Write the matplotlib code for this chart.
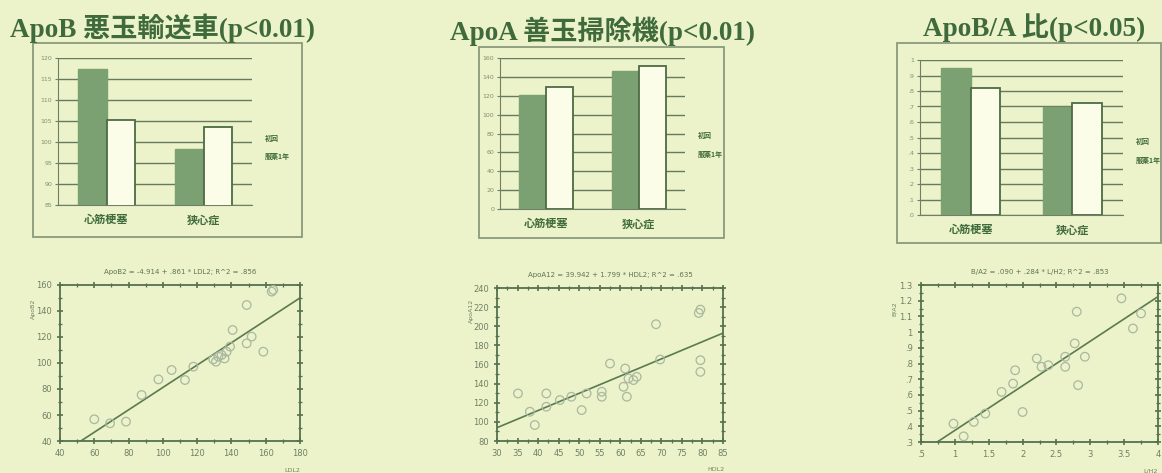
import matplotlib
matplotlib.use("Agg")
import matplotlib.pyplot as plt
from matplotlib.patches import Rectangle
from matplotlib.ticker import MultipleLocator
import numpy as np

BG = "#ecf2c9"
DARK = "#3f6b3c"
BAR_GREEN = "#7ba173"
LINE = "#5a7a50"
POINT = "#a9b8a0"
CJK = ["Noto Sans CJK JP", "DejaVu Sans"]
TITLE_FONT = ["Liberation Serif", "Noto Sans CJK JP"]

categories = ["心筋梗塞", "狭心症"]
legend_labels = ["初回", "服薬1年"]

# bar values (green series, white series) per category
apob_green = [117.4, 98.4]
apob_white = [105.3, 103.5]
apoa_green = [120.4, 145.9]
apoa_white = [129.3, 151.9]
ratio_green = [0.95, 0.70]
ratio_white = [0.82, 0.72]

# scatter data
ldl_x = [60.0, 69.2, 78.5, 87.6, 97.4, 105.1, 112.9, 117.8, 129.4, 132.4, 134.3,
         137.2, 139.2, 140.7, 148.9, 148.9, 151.8, 158.6, 163.5, 164.4, 131.0, 136.0]
apob_y = [56.7, 53.6, 54.9, 75.4, 87.4, 94.6, 86.9, 97.2, 102.8, 104.9, 106.2,
          108.7, 112.6, 125.4, 144.6, 115.1, 120.3, 108.7, 154.9, 156.2, 101.0, 103.5]

hdl_x = [35.1, 38.0, 39.2, 42.0, 42.0, 45.3, 48.1, 50.6, 51.8, 55.5, 55.5, 57.5,
         60.8, 61.2, 61.6, 62.0, 63.2, 64.0, 68.7, 69.7, 79.1, 79.5, 79.5, 79.5]
apoa_y = [129.7, 110.6, 96.7, 129.7, 115.8, 122.8, 126.3, 112.3, 129.7, 131.5, 126.3, 161.0,
          136.7, 155.8, 126.3, 145.4, 143.7, 147.1, 202.1, 165.2, 213.9, 217.4, 164.5, 152.3]

lh_x = [0.98, 1.13, 1.28, 1.45, 1.69, 1.86, 1.89, 2.00, 2.21, 2.28, 2.38,
        2.63, 2.63, 2.77, 2.80, 2.82, 2.92, 3.46, 3.63, 3.75]
ba_y = [0.417, 0.336, 0.428, 0.481, 0.619, 0.672, 0.757, 0.491, 0.832, 0.779, 0.789,
        0.779, 0.843, 0.928, 1.130, 0.662, 0.843, 1.215, 1.023, 1.119]

fits = [(-4.914, 0.861), (39.942, 1.799), (0.090, 0.284)]

W, H = 1162, 473
fig = plt.figure(figsize=(W / 100, H / 100), dpi=100)
fig.patch.set_facecolor(BG)


def px_axes(x0, y0, x1, y1):
    # rectangle given in pixel coords from the top-left corner
    return fig.add_axes([x0 / W, 1 - y1 / H, (x1 - x0) / W, (y1 - y0) / H])


def frame(x0, y0, x1, y1):
    fig.patches.append(Rectangle((x0 / W, 1 - y1 / H), (x1 - x0) / W, (y1 - y0) / H,
                                 transform=fig.transFigure, fill=False,
                                 edgecolor="#8a9a7c", lw=1.3))


def bar_panel(box, plot, green, white, ylim, step, fmt, legend_xy):
    frame(*box)
    ax = px_axes(*plot)
    ax.set_facecolor("none")
    x = np.arange(len(categories))
    w = 0.29
    ax.bar(x - w / 2, green, w, color=BAR_GREEN, edgecolor=BAR_GREEN, zorder=3)
    ax.bar(x + w / 2, white, w, color="#fbfde8", edgecolor="#4d6b45", lw=1.3, zorder=3)
    ax.set_xlim(-0.5, 1.5)
    ax.set_ylim(*ylim)
    ticks = np.arange(ylim[0], ylim[1] + step / 2, step)
    ax.set_yticks(ticks)
    ax.set_yticklabels([fmt(t) for t in ticks], fontsize=4.5, color="#7f9074")
    ax.grid(axis="y", color="#667a5e", lw=1.0, zorder=0)
    for s in ["top", "right"]:
        ax.spines[s].set_visible(False)
    ax.spines["left"].set_color("#6f8066")
    ax.spines["bottom"].set_color("#6f8066")
    ax.set_xticks(x)
    ax.set_xticklabels(categories, family=CJK, fontsize=8, fontweight="bold", color=DARK)
    ax.tick_params(axis="x", length=0, pad=6)
    ax.tick_params(axis="y", length=2, pad=2, color="#6f8066")
    lx, ly = legend_xy
    for i, lab in enumerate(legend_labels):
        fig.text(lx / W, 1 - (ly + i * 19) / H, lab, family=CJK, fontsize=5,
                 fontweight="bold", color=DARK, va="center")
    return ax


def scatter_panel(plot, xs, ys, fit, xlim, ylim, xmaj, xmin_, ymaj, ymin_,
                  title, ylab, xlab, xfmt, yfmt):
    ax = px_axes(*plot)
    ax.set_facecolor("none")
    ax.scatter(xs, ys, s=38, facecolors="none", edgecolors=POINT, lw=0.9, zorder=3)
    a, b = fit
    lx = np.array(xlim)
    ax.plot(lx, a + b * lx, color=LINE, lw=1.2, zorder=2)
    ax.set_xlim(*xlim)
    ax.set_ylim(*ylim)
    ax.xaxis.set_major_locator(MultipleLocator(xmaj))
    ax.xaxis.set_minor_locator(MultipleLocator(xmin_))
    ax.yaxis.set_major_locator(MultipleLocator(ymaj))
    ax.yaxis.set_minor_locator(MultipleLocator(ymin_))
    ax.xaxis.set_major_formatter(xfmt)
    ax.yaxis.set_major_formatter(yfmt)
    ax.tick_params(which="both", direction="inout", top=True, right=True,
                   color="#55704d", labelsize=6, labelcolor="#6f8066")
    ax.tick_params(which="major", length=5, width=1.2)
    ax.tick_params(which="minor", length=3, width=0.9)
    for s in ax.spines.values():
        s.set_color("#55704d")
        s.set_linewidth(1.3)
    ax.set_title(title, fontsize=5, color="#5f7356", pad=8)
    ax.set_ylabel(ylab, fontsize=4.5, color="#6f8066", labelpad=2)
    ax.yaxis.set_label_coords(-0.1, 0.85)
    ax.set_xlabel(xlab, fontsize=4.5, color="#6f8066")
    ax.xaxis.set_label_coords(0.97, -0.17)
    return ax


titles = ["ApoB 悪玉輸送車(p<0.01)", "ApoA 善玉掃除機(p<0.01)", "ApoB/A 比(p<0.05)"]
title_pos = [(10, 28), (450, 31), (923, 28)]
for t, (tx, ty) in zip(titles, title_pos):
    fig.text(tx / W, 1 - ty / H, t, family=TITLE_FONT, fontsize=19.5,
             fontweight="bold", color=DARK, va="center", ha="left")

bar_panel((33, 43, 302, 237), (58, 58, 252, 205), apob_green, apob_white,
          (85, 120), 5, lambda v: f"{v:.0f}", (265, 138))
bar_panel((479, 47, 724, 238), (500, 58, 685, 209), apoa_green, apoa_white,
          (0, 160), 20, lambda v: f"{v:.0f}", (698, 135))
bar_panel((897, 43, 1161, 243), (920, 60, 1123, 215), ratio_green, ratio_white,
          (0, 1.0), 0.1, lambda v: f"{v:.1f}".lstrip("0") if v < 1 else "1", (1136, 141))

scatter_panel((60, 285, 300, 441), ldl_x, apob_y, fits[0], (40, 180), (40, 160),
              20, 10, 20, 10, "ApoB2 = -4.914 + .861 * LDL2; R^2 = .856",
              "ApoB2", "LDL2", lambda v, p: f"{v:.0f}", lambda v, p: f"{v:.0f}")
scatter_panel((497, 288, 723, 441), hdl_x, apoa_y, fits[1], (30, 85), (80, 240),
              5, 2.5, 20, 10, "ApoA12 = 39.942 + 1.799 * HDL2; R^2 = .635",
              "ApoA12", "HDL2", lambda v, p: f"{v:.0f}", lambda v, p: f"{v:.0f}")
scatter_panel((921, 285, 1158, 442), lh_x, ba_y, fits[2], (0.5, 4.0), (0.3, 1.3),
              0.5, 0.25, 0.1, 0.05, "B/A2 = .090 + .284 * L/H2; R^2 = .853",
              "B/A2", "L/H2", lambda v, p: f"{v:g}".replace("0.", "."),
              lambda v, p: f"{v:.1f}".replace("0.", ".") if v < 1 else f"{v:.1f}".rstrip("0").rstrip("."))

fig.savefig("out.png", dpi=100, facecolor=BG)
